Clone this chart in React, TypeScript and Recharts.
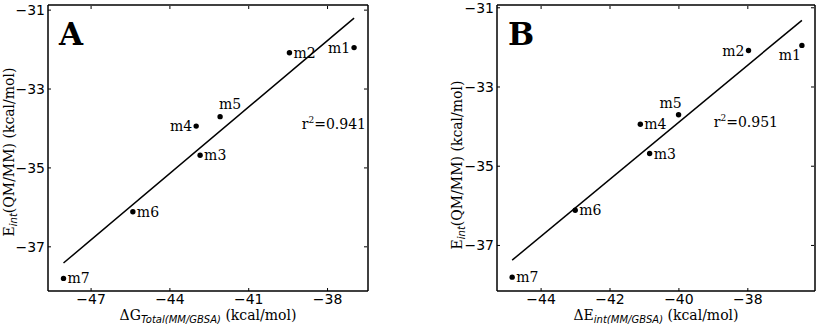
import React from 'react';
import { ScatterChart, Scatter, XAxis, YAxis } from 'recharts';

// QM/MM interaction energies and the two MM/GBSA descriptors (kcal/mol)
const molecules = ['m1', 'm2', 'm3', 'm4', 'm5', 'm6', 'm7'];
const eIntQmmm = [-31.95, -32.08, -34.68, -33.94, -33.7, -36.11, -37.8];
const dGTotal = [-36.99, -39.45, -42.85, -43.0, -42.09, -45.41, -48.05];
const dEInt = [-36.43, -37.98, -40.85, -41.12, -40.01, -43.01, -44.84];

const r2A = '0.941';
const r2B = '0.951';

const yTicks = [-37, -35, -33, -31];
const xTicksA = [-47, -44, -41, -38];
const xTicksB = [-44, -42, -40, -38];

// where each point label sits relative to its dot
const placeA: Record<string, string> = {
  m1: 'left', m2: 'right', m3: 'right', m4: 'left', m5: 'above', m6: 'right', m7: 'right',
};
const placeB: Record<string, string> = {
  m1: 'belowLeft', m2: 'left', m3: 'right', m4: 'right', m5: 'aboveLeft', m6: 'right', m7: 'right',
};

const SERIF = 'DejaVu Serif, serif';
const SANS = 'DejaVu Sans, sans-serif';

const fmt = (v: number) => (v < 0 ? `\u2212${Math.abs(v)}` : `${v}`);

const toPoints = (xs: number[]) => molecules.map((name, i) => ({ name, x: xs[i], y: eIntQmmm[i] }));

// least-squares line over the x range of the data
const fitLine = (xs: number[], ys: number[]) => {
  const n = xs.length;
  const mx = xs.reduce((a, b) => a + b, 0) / n;
  const my = ys.reduce((a, b) => a + b, 0) / n;
  let sxy = 0;
  let sxx = 0;
  xs.forEach((x, i) => {
    sxy += (x - mx) * (ys[i] - my);
    sxx += (x - mx) * (x - mx);
  });
  const slope = sxy / sxx;
  const lo = Math.min(...xs);
  const hi = Math.max(...xs);
  return [
    { x: lo, y: my + slope * (lo - mx) },
    { x: hi, y: my + slope * (hi - mx) },
  ];
};

const tickText = { fontFamily: SANS, fontSize: 14, fill: '#000' };
const frame = { stroke: '#000', strokeWidth: 1.5 };

const BottomTick = (p: any) => (
  <g>
    <line x1={p.x} x2={p.x} y1={p.y} y2={p.y - 3} stroke="#000" />
    <text x={p.x} y={p.y + 13} textAnchor="middle" {...tickText}>{fmt(p.payload.value)}</text>
  </g>
);
const TopTick = (p: any) => <line x1={p.x} x2={p.x} y1={p.y + 1} y2={p.y + 4} stroke="#000" />;
const LeftTick = (p: any) => (
  <g>
    <line x1={p.x} x2={p.x + 3} y1={p.y} y2={p.y} stroke="#000" />
    <text x={p.x - 3} y={p.y + 5} textAnchor="end" {...tickText}>{fmt(p.payload.value)}</text>
  </g>
);
const RightTick = (p: any) => <line x1={p.x - 1} x2={p.x - 4} y1={p.y} y2={p.y} stroke="#000" />;

const makeDot = (place: Record<string, string>) => (p: any) => {
  const { cx, cy, payload } = p;
  const where = place[payload.name];
  let tx = cx + 4;
  let ty = cy + 5;
  let anchor: 'start' | 'end' = 'start';
  if (where === 'left') { tx = cx - 4; anchor = 'end'; }
  if (where === 'above') { tx = cx - 1; ty = cy - 8; }
  if (where === 'belowLeft') { tx = cx - 1; ty = cy + 15; anchor = 'end'; }
  if (where === 'aboveLeft') { tx = cx + 3; ty = cy - 7; anchor = 'end'; }
  return (
    <g>
      <circle cx={cx} cy={cy} r={2.7} fill="#000" />
      <text x={tx} y={ty} textAnchor={anchor} fontFamily={SERIF} fontSize={14} fill="#000">{payload.name}</text>
    </g>
  );
};

const noShape = () => <g />;

interface PanelProps {
  width: number;
  axisWidth: number;
  rightMargin: number;
  xs: number[];
  xDomain: [number, number];
  yDomain: [number, number];
  xTicks: number[];
  place: Record<string, string>;
  letter: string;
  letterX: number;
  r2: string;
  r2X: number;
  r2Y: number;
  xLabel: string;
  xSub: string;
  xLabelX: number;
  yLabelX: number;
  yLabelY: number;
}

const Panel = (props: PanelProps) => {
  const points = toPoints(props.xs);
  const line = fitLine(props.xs, eIntQmmm);
  return (
    <ScatterChart width={props.width} height={324} margin={{ top: 4, right: props.rightMargin - 1, bottom: 0, left: 0 }}>
      <XAxis xAxisId="b" type="number" dataKey="x" domain={props.xDomain} ticks={props.xTicks} allowDataOverflow
        height={33} interval={0} tickSize={0} tickMargin={0} tickLine={false} tick={BottomTick} axisLine={frame} />
      <XAxis xAxisId="t" orientation="top" type="number" dataKey="x" domain={props.xDomain} ticks={props.xTicks} allowDataOverflow
        height={1} interval={0} tickSize={0} tickMargin={0} tickLine={false} tick={TopTick} axisLine={frame} />
      <YAxis yAxisId="l" type="number" dataKey="y" domain={props.yDomain} ticks={yTicks} allowDataOverflow
        width={props.axisWidth} interval={0} tickSize={0} tickMargin={0} tickLine={false} tick={LeftTick} axisLine={frame} />
      <YAxis yAxisId="r" orientation="right" type="number" dataKey="y" domain={props.yDomain} ticks={yTicks} allowDataOverflow
        width={1} interval={0} tickSize={0} tickMargin={0} tickLine={false} tick={RightTick} axisLine={frame} />
      <Scatter data={points} xAxisId="t" yAxisId="r" shape={noShape} isAnimationActive={false} />
      <Scatter data={line} xAxisId="b" yAxisId="l" line={{ stroke: '#000', strokeWidth: 1.5 }} lineType="joint"
        shape={noShape} isAnimationActive={false} />
      <Scatter data={points} xAxisId="b" yAxisId="l" shape={makeDot(props.place)} isAnimationActive={false} />
      <text x={props.letterX} y={45} fontFamily={SERIF} fontWeight="bold" fontSize={31} fill="#000">{props.letter}</text>
      <text x={props.r2X} y={props.r2Y} textAnchor="end" fontFamily={SERIF} fontSize={14} fill="#000">
        r<tspan fontSize={9} dy={-6}>2</tspan><tspan dy={6}>={props.r2}</tspan>
      </text>
      <text x={props.xLabelX} y={320} textAnchor="middle" fontFamily={SERIF} fontSize={14} fill="#000">
        {props.xLabel}
        <tspan fontFamily={SANS} fontStyle="italic" fontSize={10} dy={3}>{props.xSub}</tspan>
        <tspan dy={-3}> (kcal/mol)</tspan>
      </text>
      <text x={props.yLabelX} y={props.yLabelY} textAnchor="middle" fontFamily={SERIF} fontSize={14} fill="#000"
        transform={`rotate(-90 ${props.yLabelX} ${props.yLabelY})`}>
        E
        <tspan fontFamily={SANS} fontStyle="italic" fontSize={10} dy={3}>int</tspan>
        <tspan dy={-3}>(QM/MM) (kcal/mol)</tspan>
      </text>
    </ScatterChart>
  );
};

export default function App() {
  return (
    <div style={{ position: 'absolute', left: 0, top: 0, width: 819, height: 324, display: 'flex', background: '#fff' }}>
      <Panel width={410} axisWidth={48} rightMargin={42} xs={dGTotal} xDomain={[-48.64, -36.46]} yDomain={[-38.12, -30.87]}
        xTicks={xTicksA} place={placeA} letter="A" letterX={59} r2={r2A} r2X={366} r2Y={129}
        xLabel={'\u0394G'} xSub="Total(MM/GBSA)" xLabelX={208} yLabelX={14} yLabelY={152} />
      <Panel width={409} axisWidth={87} rightMargin={4} xs={dEInt} xDomain={[-45.28, -36.05]} yDomain={[-38.15, -30.93]}
        xTicks={xTicksB} place={placeB} letter="B" letterX={98} r2={r2B} r2X={368} r2Y={127}
        xLabel={'\u0394E'} xSub="int(MM/GBSA)" xLabelX={246} yLabelX={52} yLabelY={165} />
    </div>
  );
}
